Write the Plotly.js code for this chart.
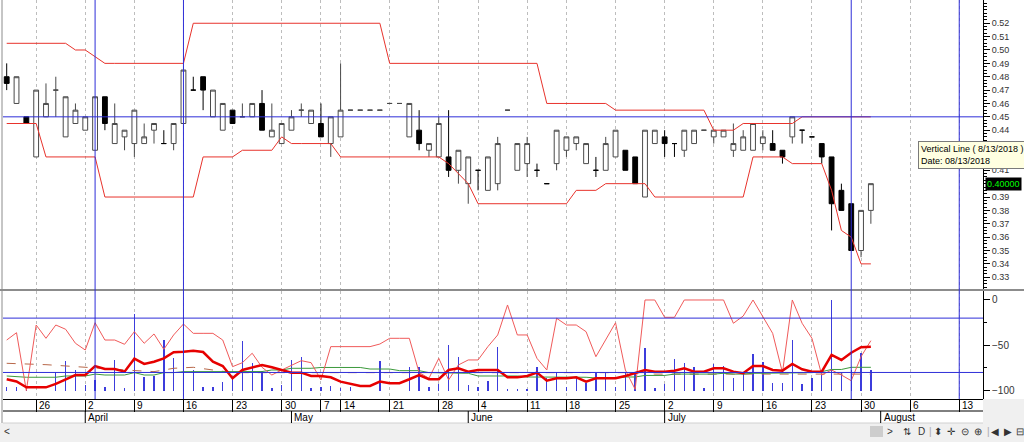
<!DOCTYPE html>
<html>
<head>
<meta charset="utf-8">
<script src="https://cdn.plot.ly/plotly-3.0.1.min.js"></script>
<style>
  html, body { margin: 0; padding: 0; background: #fff; }
  #chart { width: 1024px; height: 442px; }
</style>
</head>
<body>
<div id="chart"></div>
<script>
// daily bars, 26 Mar .. 31 Jul 2018 (one entry per trading day)
var opens = [
  .48,.46,.45,.42,.45,.47,.435,.445,.44,.425,
  .465,.43,.435,.43,.43,.44,.43,.43,.445,.47,
  .48,.45,.44,.455,.45,.45,.46,.435,.43,.44,
  .455,.445,.445,.43,.435,.455,.455,.455,.455,.46,
  .46,.435,.44,.425,.42,.42,.41,.40,.41,.395,
  .40,.455,.41,.415,.41,.40,.415,.425,.43,.415,
  .41,.41,.42,.425,.42,.39,.43,.435,.43,.425,
  .43,.44,.435,.435,.425,.425,.425,.43,.43,.425,
  .435,.44,.435,.43,.42,.395,.385,.35,.38]
var highs = [
  .49,.48,.45,.47,.475,.48,.465,.46,.45,.465,
  .465,.46,.44,.455,.445,.445,.44,.445,.485,.48,
  .48,.47,.46,.455,.46,.46,.47,.46,.445,.455,
  .46,.455,.46,.45,.49,.455,.455,.455,.455,.46,
  .46,.46,.455,.43,.45,.455,.425,.42,.41,.42,
  .435,.455,.43,.435,.415,.40,.44,.435,.435,.43,
  .42,.435,.44,.425,.42,.44,.44,.44,.43,.44,
  .44,.44,.44,.44,.445,.44,.445,.44,.44,.425,
  .45,.44,.435,.43,.42,.40,.385,.38,.40]
var lows = [
  .47,.46,.445,.42,.45,.45,.435,.445,.44,.425,
  .44,.43,.425,.42,.43,.43,.43,.425,.445,.47,
  .455,.45,.44,.445,.45,.45,.44,.435,.43,.44,
  .45,.445,.435,.42,.435,.455,.455,.455,.455,.46,
  .46,.435,.425,.42,.42,.405,.40,.385,.395,.395,
  .395,.455,.41,.405,.405,.40,.41,.42,.425,.415,
  .405,.41,.42,.41,.40,.39,.43,.42,.42,.42,
  .43,.44,.43,.435,.42,.425,.425,.425,.425,.415,
  .43,.43,.435,.415,.365,.38,.35,.345,.37]
var closes = [
  .475,.48,.445,.47,.46,.47,.465,.455,.45,.465,
  .445,.445,.44,.455,.435,.445,.43,.445,.485,.47,
  .47,.47,.46,.445,.45,.46,.44,.44,.445,.45,
  .455,.455,.435,.45,.455,.455,.455,.455,.455,.46,
  .46,.46,.43,.43,.445,.41,.425,.42,.41,.42,
  .43,.455,.43,.43,.41,.40,.44,.435,.435,.43,
  .41,.43,.44,.41,.40,.44,.44,.43,.43,.44,
  .44,.44,.44,.44,.43,.435,.445,.435,.425,.42,
  .45,.44,.435,.42,.385,.38,.35,.38,.40]

// price channel
var upperBand = [
  .505,.505,.505,.505,.505,.505,.505,.50,.50,.495,
  .49,.49,.49,.49,.49,.49,.49,.49,.49,.52,
  .52,.52,.52,.52,.52,.52,.52,.52,.52,.52,
  .52,.52,.52,.52,.52,.52,.52,.52,.52,.49,
  .49,.49,.49,.49,.49,.49,.49,.49,.49,.49,
  .49,.49,.49,.49,.49,.46,.46,.46,.46,.46,
  .46,.46,.455,.455,.455,.455,.455,.455,.455,.455,
  .455,.455,.44,.44,.44,.445,.445,.445,.445,.445,
  .445,.45,.45,.45,.45,.45,.45,.45,.45]
var lowerBand = [
  .445,.445,.445,.445,.42,.42,.42,.42,.42,.42,
  .39,.39,.39,.39,.39,.39,.39,.39,.39,.39,
  .42,.42,.42,.42,.425,.425,.425,.425,.435,.43,
  .43,.43,.43,.43,.42,.42,.42,.42,.42,.42,
  .42,.42,.42,.42,.42,.415,.4075,.40,.385,.385,
  .385,.385,.385,.385,.385,.385,.385,.385,.395,.395,
  .395,.40,.40,.40,.40,.40,.39,.39,.39,.39,
  .39,.39,.39,.39,.39,.39,.42,.42,.42,.42,
  .415,.415,.415,.415,.395,.365,.36,.34,.34]

// lower pane
var pctR = [
  -44.2,-36.1,-100,-27.6,-42.3,-27.6,-32.3,-47.8,-55.2,-25.1,
  -44.2,-44.2,-48.9,-35,-47.8,-37.5,-54.4,-38.6,-26.5,-36.8,
  -36.8,-36.8,-44.2,-73.6,-69.2,-58.8,-74.3,-82.8,-77.3,-71.7,
  -67,-69.2,-88.3,-51.5,-51.5,-51.5,-51.5,-51.5,-48.6,-42.3,
  -42.3,-42.3,-80.2,-86.4,-64.4,-88.3,-71.7,-66.2,-66.2,-51.5,
  -38.6,-5.5,-38.6,-38.6,-64.4,-77.3,-20.2,-27.6,-27.6,-35,
  -62.6,-44.2,-25.1,-77.3,-98.6,0,0,-19.1,-19.1,0,
  0,0,0,0,-25.7,-17.7,0,-18.4,-36.8,-80.2,
  0,-25.7,-42.3,-82.8,-77.3,-82.8,-89.1,-62.6,-44.9]
var pctRSmooth = [
  -87.5,-90,-96.4,-96.4,-96.4,-92.7,-87.5,-82.8,-82.8,-72.9,
  -76.2,-76.2,-79.1,-64.8,-70.6,-68.1,-64.4,-57.7,-57.1,-56,
  -57.4,-68.1,-72.9,-86.4,-77.3,-74.3,-71.7,-74.3,-77.3,-80.2,
  -80.2,-83.9,-83.9,-85.3,-90.1,-92.7,-94.9,-94.9,-90.1,-91.9,
  -91.9,-87.5,-82.8,-87.5,-87.5,-77.3,-75.4,-79.1,-77.3,-77.3,
  -77.3,-85.3,-85.3,-83.9,-80.2,-89.1,-86.4,-86.4,-85.3,-90.1,
  -86.4,-86.4,-86.4,-83.9,-80.9,-77.3,-79.1,-79.1,-78,-75.4,
  -79.1,-79.1,-75.4,-75.4,-79.1,-80.9,-72.9,-72.9,-77.3,-78,
  -70.6,-76.5,-79.1,-79.1,-60.7,-66.2,-58.2,-52.2,-51.5]
var slowLine = [
  -83.9,-85,-85.3,-85.3,-85.3,-85.3,-83.9,-83.9,-83.9,-81.8,
  -82.8,-82.8,-82.8,-80.2,-82.8,-82.8,-80.2,-80.2,-79.1,-79.1,
  -79.1,-79.1,-79.1,-79.5,-79,-79,-79,-77.3,-77.3,-75.4,
  -75.4,-75.4,-74.5,-74.5,-74.5,-74.5,-74.5,-76.2,-76.2,-76.2,
  -78,-78,-78,-80.2,-80.2,-80.2,-80.9,-80.9,-83.9,-83.9,
  -83.9,-83.9,-83.9,-85,-85,-85,-85.3,-85.3,-85.3,-85.3,
  -86.1,-86.1,-86.1,-85,-85,-83.3,-83.3,-83.3,-81.8,-81.8,
  -81.8,-81.8,-81.8,-80.9,-81.8,-81.8,-80.9,-80.9,-80.9,-80.9,
  -80.9,-80.2,-80.2,-79.1,-76.7,-76.7,-74.3,-74.3,-74.3]
var avgLine = [
  -69.9,-70.1,-70.4,-70.6,-71.4,-72.1,-72.9,-73.7,-74.6,-75.4,
  -76,-76.7,-77.3,-77.9,-78.5,-79.1,-77.3,-75.4,-74.8,-74.3,
  -75.8,-77.3,-78.8,-80.2,-80.2,-80.2,-80.2,-80.2,-80.2,-80.2,
  -80.2,-80.2,-80.2,-80.2,-80.2,-80.2,-80.2,-80.2,-80.2,-80.2,
  -80.2,-80.2,-80.2,-80.2,-80.2,-80.2,-80.2,-80.2,-80.2,-80.2,
  -80.2,-80.2,-80.2,-80.2,-80.2,-80.2,-80.2,-80.2,-80.2,-80.2,
  -80.2,-80.2,-80.2,-80.2,-80.2,-80.2,-81.8,-81.8,-81.8,-81.8,
  -81.8,-81.8,-81.8,-81.8,-81.8,-81.8,-81.8,-81.8,-81.8,-81.8,
  -81.8,-81.8,-81.8,-81.8,-81.8,-81.8,-81.8,-81.8,-81.8]
var volume = [
  4.4,3.8,3,0,0,21,33,22.8,6.3,12,
  4.4,33.9,2.6,84.7,14.8,16.2,56,35.8,20,22.8,
  4.4,4.4,9.9,14,55.2,30.9,22,3,6.3,33.9,
  36.9,2.6,4.4,5.2,3,3.8,0,0,33.1,0,
  0,26.5,26.5,4.4,7.4,50.4,36.9,6.3,4.4,11,
  47.9,1.5,1.5,2,25.8,13.7,21,3.8,14.8,8.8,
  19.2,21,4.4,19.2,19.9,46.8,3,7.4,34.7,30.9,
  25.8,3,29.5,27.3,13.7,18.4,40.5,32,8.8,8.8,
  56,7.4,13.7,19.9,100,19.9,22.8,42,22.8]

// date scale (bar index of each labelled day)
var dayLabels = ['26','2','9','16','23','30','7','14','21','28','4','11','18','25','2','9','16','23','30','6','13']
var dayTickIdx = [3,8,13,18,23,28,32,34,39,44,48,53,57,62,67,72,77,82,87,92,97]
var monthLabels = ['April','May','June','July','August']
var monthStartIdx = [8,29,47,67,89]

var markerIdx = [9, 18, 86, 97]   // vertical lines
var priceLevel = 0.45
var oscLevels = [-20, -80]

var idx = closes.map(function(c, i){ return i })

// page geometry
var W = 1024, H = 442, ML = 3, MR = 41, MT = 0, MB = 43
var plotW = W - ML - MR, plotH = H - MT - MB
function px(x){ return (x - ML) / plotW }
function py(y){ return (MT + plotH - y) / plotH }

var blue = '#2e2ed8'
var font = 'Liberation Sans, Arial, sans-serif'
var last = closes[closes.length - 1]

// right scale, labels hidden where the tip box and the price tag sit on them
var priceTicks = [], priceText = []
for (var t = 33; t <= 52; t++) {
	priceTicks.push(t / 100)
	priceText.push((t == 42 || t == 43 || t == Math.round(last * 100)) ? '' : (t / 100).toFixed(2))
}

var candles = {
	type: 'candlestick', x: idx,
	open: opens, high: highs, low: lows, close: closes,
	xaxis: 'x', yaxis: 'y',
	increasing: {line: {color: '#4a4a4a', width: 1}, fillcolor: '#ffffff'},
	decreasing: {line: {color: '#000000', width: 1}, fillcolor: '#000000'},
	hoverinfo: 'skip'
}
var upper = {x: idx, y: upperBand, mode: 'lines', yaxis: 'y', line: {color: '#e8332c', width: 1}, hoverinfo: 'skip'}
var lower = {x: idx, y: lowerBand, mode: 'lines', yaxis: 'y', line: {color: '#e8332c', width: 1}, hoverinfo: 'skip'}

var volBars = {type: 'bar', x: idx, y: volume, base: -100, width: 0.14, yaxis: 'y2',
	marker: {color: '#3c3cdc', line: {width: 0}}, hoverinfo: 'skip'}
var avg = {x: idx, y: avgLine, mode: 'lines', yaxis: 'y2', line: {color: '#b8684a', width: 1, dash: 'dash'}, hoverinfo: 'skip'}
var slow = {x: idx, y: slowLine, mode: 'lines', yaxis: 'y2', line: {color: '#3c9a3c', width: 1}, hoverinfo: 'skip'}
var wr = {x: idx, y: pctR, mode: 'lines', yaxis: 'y2', line: {color: '#f05a5a', width: 1}, hoverinfo: 'skip'}
var wrSmooth = {x: idx, y: pctRSmooth, mode: 'lines', yaxis: 'y2', line: {color: '#e60000', width: 2.5}, hoverinfo: 'skip'}

var shapes = []
// grey strips around the chart body
shapes.push({type: 'rect', xref: 'paper', yref: 'paper', x0: px(0), x1: px(W), y0: py(423), y1: py(H), fillcolor: '#f0f0f0', line: {width: 0}})
shapes.push({type: 'rect', xref: 'paper', yref: 'paper', x0: 1, x1: px(W), y0: py(399), y1: py(423), fillcolor: '#f0f0f0', line: {width: 0}})
shapes.push({type: 'rect', xref: 'paper', yref: 'paper', x0: px(870), x1: px(883), y0: py(426), y1: py(437), fillcolor: '#cdcdcd', line: {width: 0}})
// pane separator and left edge
shapes.push({type: 'line', xref: 'paper', yref: 'paper', x0: px(0), x1: px(W), y0: py(290), y1: py(290), line: {color: '#8c8c8c', width: 2}})
shapes.push({type: 'line', xref: 'paper', yref: 'paper', x0: px(2), x1: px(2), y0: py(0), y1: py(423), line: {color: '#8c8c8c', width: 1}})
// date rows
shapes.push({type: 'line', xref: 'paper', yref: 'paper', x0: 0, x1: 1, y0: py(411), y1: py(411), line: {color: '#000', width: 1}})
shapes.push({type: 'line', xref: 'paper', yref: 'paper', x0: 0, x1: 1, y0: py(423), y1: py(423), line: {color: '#d0d0d0', width: 1}})
monthStartIdx.forEach(function(m){
	shapes.push({type: 'line', xref: 'x', yref: 'paper', x0: m, x1: m, y0: py(411), y1: py(423), line: {color: '#000', width: 1}})
})
// level lines
shapes.push({type: 'line', xref: 'paper', yref: 'y', x0: 0, x1: 1, y0: priceLevel, y1: priceLevel, line: {color: blue, width: 1}})
oscLevels.forEach(function(v){
	shapes.push({type: 'line', xref: 'paper', yref: 'y2', x0: 0, x1: 1, y0: v, y1: v, line: {color: blue, width: 1}})
})
markerIdx.forEach(function(m){
	shapes.push({type: 'line', xref: 'x', yref: 'paper', x0: m, x1: m, y0: 0, y1: 1, line: {color: blue, width: 1}})
})

var annotations = []
dayLabels.forEach(function(d, i){
	annotations.push({text: d, x: dayTickIdx[i], xref: 'x', xanchor: 'left', xshift: 1,
		y: py(405), yref: 'paper', yanchor: 'middle', showarrow: false, font: {size: 10, color: '#000'}})
})
monthLabels.forEach(function(m, i){
	annotations.push({text: m, x: monthStartIdx[i], xref: 'x', xanchor: 'left', xshift: 1,
		y: py(417.5), yref: 'paper', yanchor: 'middle', showarrow: false, font: {size: 10, color: '#000'}})
})
// last price tag
annotations.push({text: last.toFixed(5), x: 1, xref: 'paper', xanchor: 'left', xshift: 2,
	y: last, yref: 'y', yanchor: 'middle', showarrow: false, bgcolor: '#000', borderpad: 1,
	font: {size: 9, color: '#00ff00'}})
// hover tip of the vertical line
annotations.push({text: 'Vertical Line ( 8/13/2018 )<br>Date: 08/13/2018', align: 'left',
	x: px(918), xref: 'paper', xanchor: 'left', y: py(141), yref: 'paper', yanchor: 'top',
	showarrow: false, bgcolor: '#ffffe1', bordercolor: '#7a7a7a', borderwidth: 1, borderpad: 2,
	font: {size: 9, color: '#000'}})
// scroll bar / toolbar glyphs
var tools = [['<', 7], ['>', 890], ['\u21C5', 907], ['D', 921], ['|', 930], ['\u2B0D', 938], ['\u271B', 951],
	['\u229D', 965], ['\u2295', 978], ['|', 988], ['\u25C0', 995], ['\u25B6', 1008], ['\u229F', 1020]]
tools.forEach(function(t){
	annotations.push({text: t[0], x: px(t[1]), xref: 'paper', xanchor: 'center', y: py(431), yref: 'paper',
		yanchor: 'middle', showarrow: false, font: {size: 10, color: t[0] == '|' ? '#aaa' : '#333'}})
})

var layout = {
	width: W, height: H,
	margin: {l: ML, r: MR, t: MT, b: MB, pad: 0},
	paper_bgcolor: '#ffffff', plot_bgcolor: '#ffffff',
	showlegend: false,
	font: {family: font, size: 10, color: '#000'},
	bargap: 0,
	xaxis: {
		range: [(ML - 6.7) / 9.82, (W - MR - 6.7) / 9.82],
		anchor: 'y2', tickmode: 'array', tickvals: dayTickIdx, showticklabels: false,
		ticks: 'outside', ticklen: 12, tickcolor: '#000', tickwidth: 1,
		showgrid: true, gridcolor: '#bdbdbd', griddash: '3px,3px', gridwidth: 1,
		showline: true, linecolor: '#000', zeroline: false,
		rangeslider: {visible: false}, fixedrange: true
	},
	yaxis: {
		domain: [py(289), 1], range: [0.3212, 0.5374], side: 'right',
		tickmode: 'array', tickvals: priceTicks, ticktext: priceText,
		ticks: 'outside', ticklen: 6, tickcolor: '#000',
		minor: {tick0: 0, dtick: 0.0025, ticks: 'outside', ticklen: 3, tickcolor: '#000', showgrid: false},
		tickfont: {size: 9, color: '#333'},
		showgrid: false, zeroline: false, showline: true, linecolor: '#000', fixedrange: true
	},
	yaxis2: {
		domain: [0, py(291)], range: [-109.3, 9.93], side: 'right',
		tickmode: 'array', tickvals: [0, -50, -100],
		ticks: 'outside', ticklen: 6, tickcolor: '#000',
		minor: {tick0: 0, dtick: 25, ticks: 'outside', ticklen: 3, tickcolor: '#000', showgrid: false},
		tickfont: {size: 10, color: '#333'},
		showgrid: false, zeroline: false, showline: true, linecolor: '#000', fixedrange: true
	},
	shapes: shapes,
	annotations: annotations
}

Plotly.newPlot('chart', [candles, upper, lower, volBars, avg, slow, wr, wrSmooth], layout,
	{displayModeBar: false, staticPlot: true})
</script>
</body>
</html>
